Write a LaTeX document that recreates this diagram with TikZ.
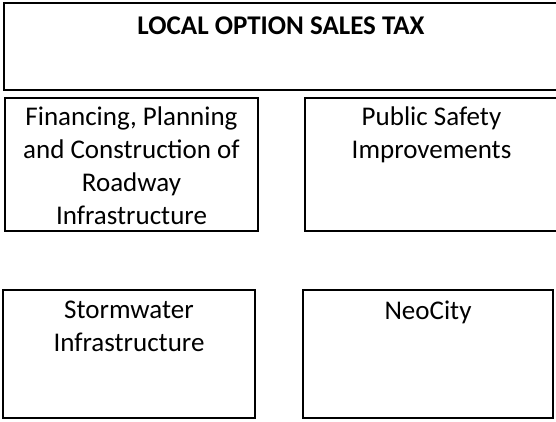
\documentclass[tikz,border=0pt]{standalone}
\usepackage{fontspec}
\setmainfont{Carlito}
\usetikzlibrary{positioning}

\begin{document}
\begin{tikzpicture}[
    x=0.5pt, y=-0.5pt,
    box/.style={rectangle, draw, line width=1pt, inner sep=0pt},
    boxtext/.style={align=center, font=\fontsize{13.5}{16.5}\selectfont, inner sep=0pt},
    titletext/.style={boxtext, font=\fontsize{13.5}{16.5}\selectfont\bfseries},
]
\useasboundingbox (0,0) rectangle (556,422);
\clip (0,0) rectangle (556,422);

% ── Top: the tax ────────────────────────────────────────────────
\node[box, minimum width=277pt, minimum height=43.5pt] (tax) at (281,46.5) {};
\node[titletext, below=7pt of tax.north] (taxtext) {LOCAL OPTION SALES TAX};

% ── Middle row ──────────────────────────────────────────────────
\node[box, minimum width=126.5pt, minimum height=66.5pt] (road)   at (131.5,164.5) {};
\node[box, minimum width=126.5pt, minimum height=66.5pt] (safety) at (431.5,164.5) {};
\node[boxtext, below=4.5pt of road.north]   (roadtext)   {Financing, Planning\\and Construction of\\Roadway\\Infrastructure};
\node[boxtext, below=4.5pt of safety.north] (safetytext) {Public Safety\\Improvements};

% ── Bottom row ──────────────────────────────────────────────────
\node[box, minimum width=126pt, minimum height=64pt] (storm) at (129,354) {};
\node[box, minimum width=125pt, minimum height=64pt] (neo)   at (428,354) {};
\node[boxtext, below=6pt of storm.north] (stormtext) {Stormwater\\Infrastructure};
\node[boxtext, below=6pt of neo.north]   (neotext)   {NeoCity};

\end{tikzpicture}
\end{document}
